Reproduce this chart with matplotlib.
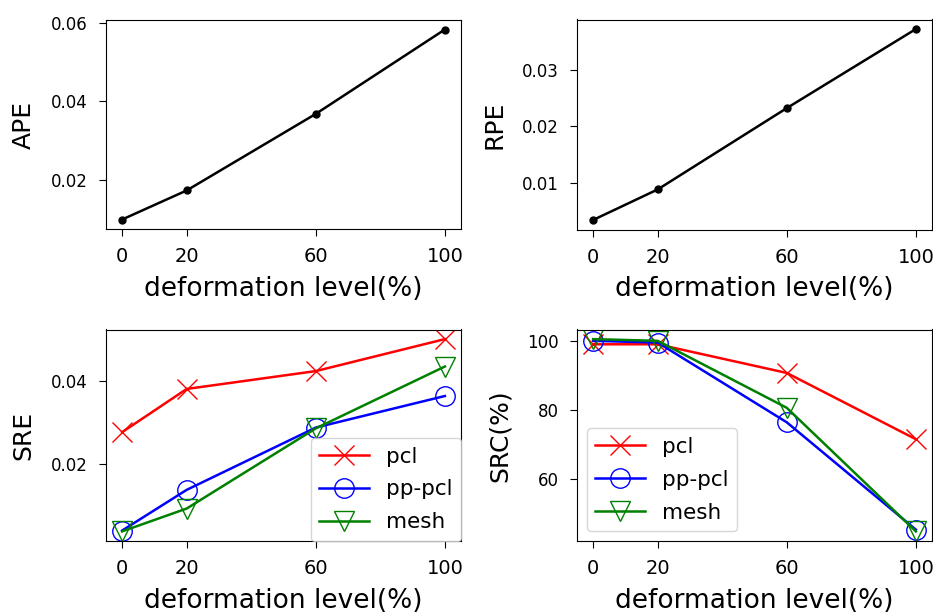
import matplotlib
matplotlib.use("Agg")
import matplotlib.pyplot as plt

levels = [0, 20, 60, 100]
ape = [0.0099, 0.0173, 0.0368, 0.0583]
rpe = [0.0034, 0.0088, 0.0232, 0.0372]
sre_pcl = [0.0276, 0.0380, 0.0423, 0.0500]
sre_pppcl = [0.0039, 0.0137, 0.0287, 0.0363]
sre_mesh = [0.0037, 0.0092, 0.0285, 0.0434]
src_pcl = [99.0, 99.0, 90.7, 71.5]
src_pppcl = [100.0, 99.5, 76.4, 45.3]
src_mesh = [100.5, 100.0, 80.6, 44.8]

xlabel = "deformation level(%)"

fig = plt.figure(figsize=(9.33, 6.13), dpi=100)
W, H = 933, 613

def add_ax(l, t, r, b):
    return fig.add_axes([l / W, 1 - b / H, (r - l) / W, (b - t) / H])

ax1 = add_ax(106, 20, 461, 229)
ax2 = add_ax(577, 19.5, 932, 229.5)
ax3 = add_ax(106, 329.5, 461, 541)
ax4 = add_ax(577, 329.5, 932, 541)

def style(ax, ylabel, yticks):
    ax.set_xticks(levels)
    ax.set_yticks(yticks)
    ax.tick_params(axis="both", length=5, pad=8)
    ax.tick_params(axis="x", labelsize=14)
    ax.tick_params(axis="y", labelsize=12)
    ax.set_xlabel(xlabel, fontsize=19, labelpad=7)
    ax.set_ylabel(ylabel, fontsize=18, labelpad=11)

ax1.plot(levels, ape, color="black", marker="o", markersize=5, lw=1.8)
style(ax1, "APE", [0.02, 0.04, 0.06])

ax2.plot(levels, rpe, color="black", marker="o", markersize=5, lw=1.8)
style(ax2, "RPE", [0.01, 0.02, 0.03])

ms = 14
for ax, a, b, c in [(ax3, sre_pcl, sre_pppcl, sre_mesh), (ax4, src_pcl, src_pppcl, src_mesh)]:
    ax.plot(levels, a, color="red", marker="x", markersize=ms, lw=1.8, label="pcl")
    ax.plot(levels, b, color="blue", marker="o", markersize=ms, mfc="none", lw=1.8, label="pp-pcl")
    ax.plot(levels, c, color="green", marker="v", markersize=ms, mfc="none", lw=1.8, label="mesh")

style(ax3, "SRE", [0.02, 0.04])
style(ax4, "SRC(%)", [60, 80, 100])
ax3.legend(loc="lower right", bbox_to_anchor=(1, 0), borderaxespad=0,
           fontsize=15.5, handlelength=2.3, labelspacing=0.6)
ax4.legend(loc="lower left", fontsize=15.5, handlelength=2.3, labelspacing=0.6,
           borderaxespad=0.45)

fig.savefig("out.png", dpi=100)
